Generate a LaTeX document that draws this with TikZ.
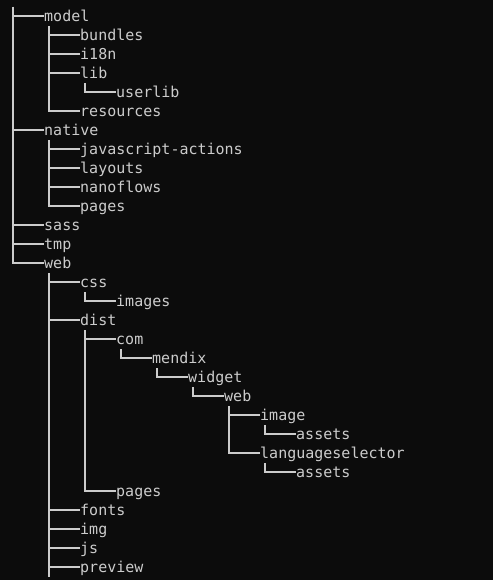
\documentclass[tikz,border=0pt]{standalone}
\usepackage{fontspec}
\setmonofont{DejaVu Sans Mono}
\usepackage{tikz}
\usetikzlibrary{positioning}
\definecolor{TermBg}{RGB}{12,12,12}
\definecolor{TermFg}{RGB}{204,204,204}

\begin{document}
\begin{tikzpicture}[
    x=1pt, y=-1pt,
    entry/.style={anchor=west, inner sep=0pt, text height=11pt, text depth=0pt, text=TermFg, font=\ttfamily\fontsize{15}{18}\selectfont},
    branch/.style={draw=TermFg, line width=2pt}
  ]
    \fill[TermBg] (0,0) rectangle (493,580);
    \coordinate (top) at (13,7);
    \coordinate (bottom) at (49,577);
    % first level
    \node[entry] (model) at (44,16) {model};
    \node[entry] (native) at (44,130) {native};
    \node[entry] (sass) at (44,225) {sass};
    \node[entry] (tmp) at (44,244) {tmp};
    \node[entry] (web) at (44,263) {web};
    % model
    \node[entry] (bundles) at (80,35) {bundles};
    \node[entry] (i18n) at (80,54) {i18n};
    \node[entry] (lib) at (80,73) {lib};
    \node[entry] (userlib) at (116,92) {userlib};
    \node[entry] (resources) at (80,111) {resources};
    % native
    \node[entry] (jsactions) at (80,149) {javascript-actions};
    \node[entry] (layouts) at (80,168) {layouts};
    \node[entry] (nanoflows) at (80,187) {nanoflows};
    \node[entry] (nativepages) at (80,206) {pages};
    % web
    \node[entry] (css) at (80,282) {css};
    \node[entry] (images) at (116,301) {images};
    \node[entry] (dist) at (80,320) {dist};
    \node[entry] (com) at (116,339) {com};
    \node[entry] (mendix) at (152,358) {mendix};
    \node[entry] (widget) at (188,377) {widget};
    \node[entry] (widgetweb) at (224,396) {web};
    \node[entry] (image) at (260,415) {image};
    \node[entry] (imageassets) at (296,434) {assets};
    \node[entry] (langsel) at (260,453) {languageselector};
    \node[entry] (langassets) at (296,472) {assets};
    \node[entry] (distpages) at (116,491) {pages};
    \node[entry] (fonts) at (80,510) {fonts};
    \node[entry] (img) at (80,529) {img};
    \node[entry] (js) at (80,548) {js};
    \node[entry] (preview) at (80,567) {preview};
    % tree lines
    \foreach \kid in {model,native,sass,tmp,web}
      \draw[branch] (top) |- (\kid.west);
    \foreach \kid in {bundles,i18n,lib,resources}
      \draw[branch] ([xshift=5pt,yshift=-4.5pt]model.south west) |- (\kid.west);
    \draw[branch] ([xshift=5pt,yshift=-4.5pt]lib.south west) |- (userlib.west);
    \foreach \kid in {jsactions,layouts,nanoflows,nativepages}
      \draw[branch] ([xshift=5pt,yshift=-4.5pt]native.south west) |- (\kid.west);
    \draw[branch] ([xshift=5pt,yshift=-4.5pt]web.south west) -- (bottom);
    \foreach \kid in {css,dist,fonts,img,js,preview}
      \draw[branch] ([xshift=5pt,yshift=-4.5pt]web.south west) |- (\kid.west);
    \draw[branch] ([xshift=5pt,yshift=-4.5pt]css.south west) |- (images.west);
    \foreach \kid in {com,distpages}
      \draw[branch] ([xshift=5pt,yshift=-4.5pt]dist.south west) |- (\kid.west);
    \draw[branch] ([xshift=5pt,yshift=-4.5pt]com.south west) |- (mendix.west);
    \draw[branch] ([xshift=5pt,yshift=-4.5pt]mendix.south west) |- (widget.west);
    \draw[branch] ([xshift=5pt,yshift=-4.5pt]widget.south west) |- (widgetweb.west);
    \foreach \kid in {image,langsel}
      \draw[branch] ([xshift=5pt,yshift=-4.5pt]widgetweb.south west) |- (\kid.west);
    \draw[branch] ([xshift=5pt,yshift=-4.5pt]image.south west) |- (imageassets.west);
    \draw[branch] ([xshift=5pt,yshift=-4.5pt]langsel.south west) |- (langassets.west);
  \end{tikzpicture}
\end{document}
